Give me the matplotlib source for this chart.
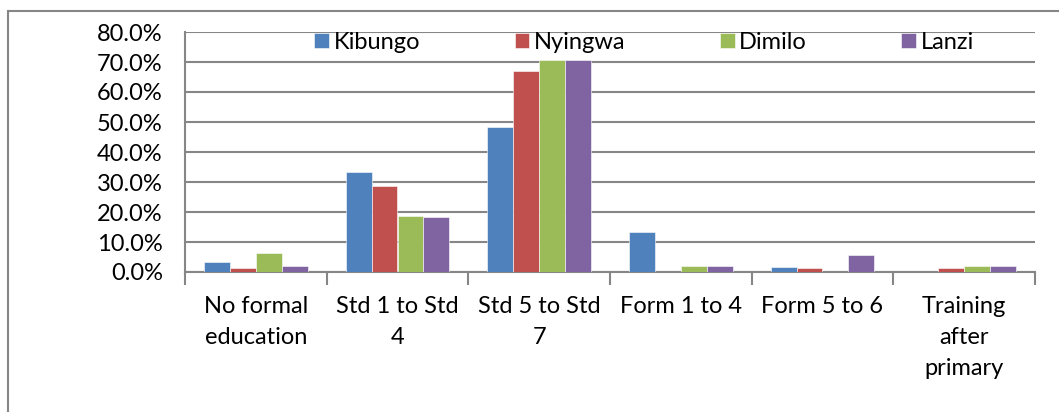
import matplotlib.pyplot as plt
import numpy as np
from matplotlib.patches import Rectangle

categories = ["No formal\neducation", "Std 1 to Std\n4", "Std 5 to Std\n7",
              "Form 1 to 4", "Form 5 to 6", "Training\nafter\nprimary"]
kibungo = [3.3, 33.3, 48.3, 13.3, 1.7, 0.0]
nyingwa = [1.5, 28.6, 67.1, 0.0, 1.4, 1.4]
dimilo = [6.2, 18.7, 70.8, 2.1, 0.0, 2.0]
lanzi = [1.9, 18.2, 70.8, 2.1, 5.7, 2.0]
series = {"Kibungo": kibungo, "Nyingwa": nyingwa, "Dimilo": dimilo, "Lanzi": lanzi}
colors = ["#4F81BD", "#C0504D", "#9BBB59", "#8064A2"]

plt.rcParams['font.family'] = ['Lato', 'DejaVu Sans']
fs = 17

fig = plt.figure(figsize=(10.59, 4.12), dpi=100)
ax = fig.add_axes([185/1059, 1-272/412, (1035-185)/1059, 240/412])

x = np.arange(len(categories))
w = 0.1835
for i, (name, vals) in enumerate(series.items()):
    ax.bar(x + (i - 1.5) * w, [v / 100 for v in vals], w, color=colors[i],
           label=name, edgecolor="white", linewidth=0.4, zorder=3)

ax.set_xlim(-0.5, len(categories) - 0.5)
ax.set_ylim(0, 0.8)
ax.set_yticks(np.arange(0, 0.81, 0.1))
ax.set_yticklabels([f"{v*100:.1f}%" for v in np.arange(0, 0.81, 0.1)], fontsize=fs)
ax.yaxis.grid(True, color="#868686", linewidth=1.5, zorder=0)
ax.tick_params(axis="y", length=0, pad=16)

ax.set_xticks(np.arange(-0.5, len(categories)), minor=False)
ax.set_xticklabels([])
ax.tick_params(axis="x", length=9, width=1.5, color="#868686")
ax.set_xticks(x, minor=True)
ax.set_xticklabels(categories, minor=True, fontsize=fs, linespacing=1.6, va="top")
ax.tick_params(axis="x", which="minor", length=0, pad=17)

for s in ["top", "right"]:
    ax.spines[s].set_visible(False)
for s in ["left", "bottom"]:
    ax.spines[s].set_color("#868686")
    ax.spines[s].set_linewidth(1.5)

leg = ax.legend(ncol=4, loc="upper left", bbox_to_anchor=(0.141, 1.04), frameon=False,
                fontsize=fs, handlelength=0.62, handleheight=0.62, handletextpad=0.2,
                columnspacing=4.0, borderaxespad=0)

fig.patches.append(Rectangle((8/1059, -0.1), 1.2, 1.1 - 11/412, transform=fig.transFigure,
                             fill=False, edgecolor="#868686", linewidth=1.5))

fig.savefig("out.png", dpi=100)
